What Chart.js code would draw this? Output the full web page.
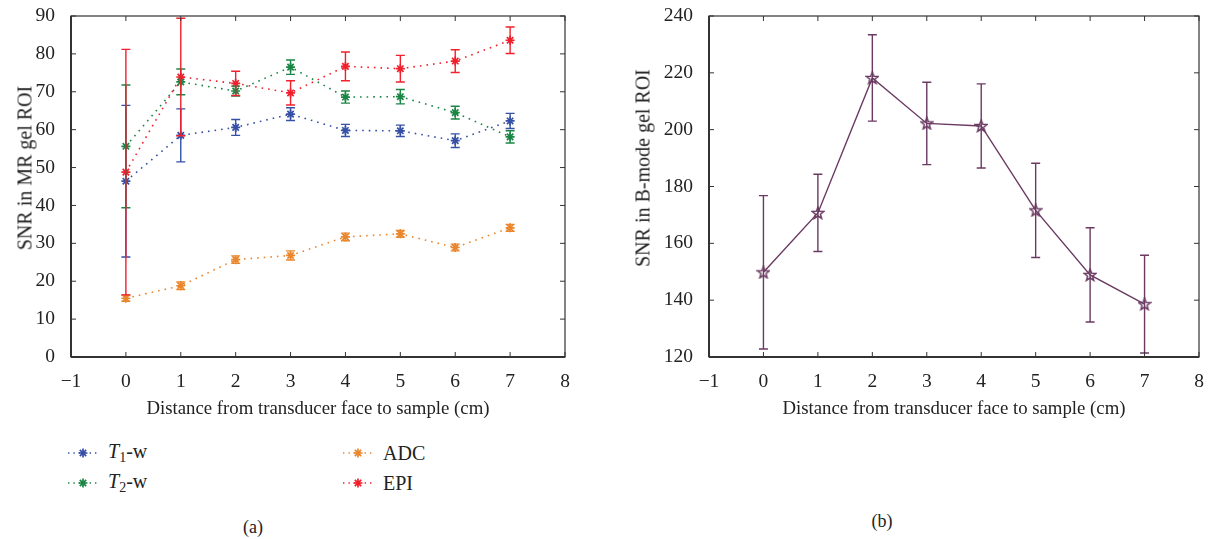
<!DOCTYPE html>
<html>
<head>
<meta charset="utf-8">
<script src="https://cdn.jsdelivr.net/npm/chart.js@4/dist/chart.umd.min.js"></script>
<style>
  body { margin: 0; background: #fff; width: 1214px; height: 539px; position: relative; overflow: hidden; font-family: "Liberation Serif", serif; color: #222; }
  #boxA { position: absolute; left: 0; top: 0; width: 610px; height: 420px; }
  #boxB { position: absolute; left: 610px; top: 0; width: 604px; height: 420px; }
  .leg { position: absolute; font-size: 20px; display: flex; align-items: center; height: 24px; }
  .leg canvas { margin-right: 10px; }
  .cap { position: absolute; font-size: 18px; transform: translateX(-50%); }
  .ytitle { position: absolute; font-size: 20px; white-space: nowrap; transform: translate(-50%, -50%) rotate(-90deg); }
  sub { font-size: 14px; vertical-align: -4px; }
</style>
</head>
<body>
<div id="boxA"><canvas id="chartA"></canvas></div>
<div id="boxB"><canvas id="chartB"></canvas></div>

<div class="ytitle" style="left:25px; top:168px;">SNR in MR gel ROI</div>
<div class="ytitle" style="left:643px; top:168px;">SNR in B-mode gel ROI</div>

<div class="leg" style="left:68px; top:441px;"><canvas class="mk" data-c="#3550a5" width="30" height="12"></canvas><span><i>T</i><sub>1</sub>-w</span></div>
<div class="leg" style="left:68px; top:471px;"><canvas class="mk" data-c="#1b8545" width="30" height="12"></canvas><span><i>T</i><sub>2</sub>-w</span></div>
<div class="leg" style="left:343px; top:441px;"><canvas class="mk" data-c="#ea862c" width="30" height="12"></canvas><span>ADC</span></div>
<div class="leg" style="left:343px; top:471px;"><canvas class="mk" data-c="#f0202c" width="30" height="12"></canvas><span>EPI</span></div>

<div class="cap" style="left:253px; top:517px;">(a)</div>
<div class="cap" style="left:882px; top:511px;">(b)</div>

<script>
// Datos
const distances = [0, 1, 2, 3, 4, 5, 6, 7];
const xTicks = [-1, 0, 1, 2, 3, 4, 5, 6, 7, 8];

const t1Values = [46.4, 58.5, 60.6, 64.1, 59.8, 59.7, 57.1, 62.3];
const t1Errors = [20.0, 7.0, 2.1, 1.7, 1.6, 1.5, 1.8, 2.0];
const t2Values = [55.6, 72.6, 70.2, 76.5, 68.6, 68.7, 64.5, 58.1];
const t2Errors = [16.2, 3.4, 1.3, 1.9, 1.6, 1.9, 1.7, 1.6];
const adcValues = [15.5, 18.8, 25.7, 26.8, 31.7, 32.5, 28.9, 34.1];
const adcErrors = [0.8, 1.0, 1.0, 1.2, 1.0, 0.9, 0.9, 0.9];
const epiValues = [48.8, 73.9, 72.2, 69.7, 76.7, 76.1, 78.1, 83.6];
const epiErrors = [32.4, 15.5, 3.2, 3.2, 3.8, 3.5, 3.0, 3.5];

const bmodeValues = [149.8, 170.7, 218.2, 202.2, 201.3, 171.6, 148.9, 138.6];
const bmodeErrors = [27.0, 13.6, 15.2, 14.5, 14.8, 16.6, 16.6, 17.2];

const mrTicks = [0, 10, 20, 30, 40, 50, 60, 70, 80, 90];
const bmodeTicks = [120, 140, 160, 180, 200, 220, 240];

const FONT = 'Liberation Serif';

function toPoints(values) {
    return distances.map((d, i) => ({ x: d, y: values[i] }));
}

// Estrella de cinco puntas (marcador del gráfico b)
function makePentagram(color) {
    const c = document.createElement('canvas');
    c.width = 14; c.height = 14;
    const ctx = c.getContext('2d');
    ctx.beginPath();
    for (let i = 0; i < 10; i++) {
        const r = i % 2 === 0 ? 6.2 : 2.6;
        const a = -Math.PI / 2 + i * Math.PI / 5;
        const px = 7 + r * Math.cos(a), py = 7.4 + r * Math.sin(a);
        if (i === 0) ctx.moveTo(px, py); else ctx.lineTo(px, py);
    }
    ctx.closePath();
    ctx.strokeStyle = color;
    ctx.lineWidth = 1.5;
    ctx.stroke();
    return c;
}

// Barras de error
const errorBars = {
    id: 'errorBars',
    afterDatasetsDraw(chart) {
        const ctx = chart.ctx;
        const area = chart.chartArea;
        ctx.save();
        ctx.beginPath();
        ctx.rect(area.left, area.top - 1, area.right - area.left, area.bottom - area.top + 2);
        ctx.clip();
        chart.data.datasets.forEach((ds) => {
            if (!ds.errors) return;
            const xs = chart.scales.x, ys = chart.scales.y;
            ctx.strokeStyle = ds.borderColor;
            ctx.lineWidth = 1.4;
            ds.data.forEach((p, i) => {
                const e = ds.errors[i];
                const x = xs.getPixelForValue(p.x);
                const yTop = ys.getPixelForValue(p.y + e);
                const yBot = ys.getPixelForValue(p.y - e);
                ctx.beginPath();
                ctx.moveTo(x, yTop); ctx.lineTo(x, yBot);
                ctx.moveTo(x - 4.5, yTop); ctx.lineTo(x + 4.5, yTop);
                ctx.moveTo(x - 4.5, yBot); ctx.lineTo(x + 4.5, yBot);
                ctx.stroke();
            });
        });
        ctx.restore();
    }
};

// Marco con marcas hacia dentro
const frame = {
    id: 'frame',
    afterDraw(chart) {
        const ctx = chart.ctx;
        const a = chart.chartArea;
        const xs = chart.scales.x, ys = chart.scales.y;
        ctx.save();
        ctx.strokeStyle = '#333';
        ctx.lineWidth = 1.2;
        ctx.strokeRect(a.left, a.top, a.right - a.left, a.bottom - a.top);
        ctx.lineWidth = 1;
        ctx.beginPath();
        xs.ticks.forEach(t => {
            const x = xs.getPixelForValue(t.value);
            ctx.moveTo(x, a.bottom); ctx.lineTo(x, a.bottom - 5);
            ctx.moveTo(x, a.top); ctx.lineTo(x, a.top + 5);
        });
        ys.ticks.forEach(t => {
            const y = ys.getPixelForValue(t.value);
            ctx.moveTo(a.left, y); ctx.lineTo(a.left + 5, y);
            ctx.moveTo(a.right, y); ctx.lineTo(a.right - 5, y);
        });
        ctx.stroke();
        ctx.lineWidth = 2;
        ctx.beginPath();
        ctx.moveTo(a.left, a.bottom); ctx.lineTo(a.right, a.bottom);
        ctx.moveTo(a.left, a.top); ctx.lineTo(a.left, a.bottom);
        ctx.stroke();
        ctx.restore();
    }
};

function xScale() {
    return {
        type: 'linear', min: -1, max: 8,
        afterBuildTicks(s) { s.ticks = xTicks.map(v => ({ value: v })); },
        afterFit(s) { s.height = 63; s.paddingLeft = 0; s.paddingRight = 0; },
        grid: { display: false },
        border: { display: false },
        ticks: {
            color: '#222', padding: 5,
            font: { family: FONT, size: 19.5 },
            callback: v => String(v).replace('-', '\u2212')
        },
        title: {
            display: true, text: 'Distance from transducer face to sample (cm)',
            color: '#222', font: { family: FONT, size: 18.8 }, padding: { top: 4, bottom: 0 }
        }
    };
}

function yScale(tickList, width) {
    return {
        type: 'linear', min: tickList[0], max: tickList[tickList.length - 1],
        afterBuildTicks(s) { s.ticks = tickList.map(v => ({ value: v })); },
        afterFit(s) { s.width = width; s.paddingTop = 0; s.paddingBottom = 0; },
        grid: { display: false },
        border: { display: false },
        ticks: { color: '#222', padding: 8, font: { family: FONT, size: 19.5 } }
    };
}

function mrSeries(values, errors, color) {
    return {
        data: toPoints(values), errors: errors,
        borderColor: color, backgroundColor: color,
        borderWidth: 1.6, borderDash: [1.6, 5],
        pointStyle: 'star', pointRadius: 4.5, pointBorderWidth: 1.7,
        pointBorderColor: color, pointHoverRadius: 4.5,
        tension: 0
    };
}

new Chart(document.getElementById('chartA'), {
    type: 'line',
    data: {
        datasets: [
            mrSeries(t1Values, t1Errors, '#3550a5'),
            mrSeries(t2Values, t2Errors, '#1b8545'),
            mrSeries(adcValues, adcErrors, '#ea862c'),
            mrSeries(epiValues, epiErrors, '#f0202c')
        ]
    },
    options: {
        responsive: true, maintainAspectRatio: false, animation: false,
        layout: { padding: { left: 0, top: 16, right: 45, bottom: 0 } },
        plugins: { legend: { display: false }, tooltip: { enabled: false } },
        scales: { x: xScale(), y: yScale(mrTicks, 71) }
    },
    plugins: [errorBars, frame]
});

const purple = '#6a3a62';
new Chart(document.getElementById('chartB'), {
    type: 'line',
    data: {
        datasets: [{
            data: toPoints(bmodeValues), errors: bmodeErrors,
            borderColor: purple, backgroundColor: purple,
            borderWidth: 1.4,
            pointStyle: makePentagram(purple), pointRadius: 7, pointHoverRadius: 7,
            tension: 0
        }]
    },
    options: {
        responsive: true, maintainAspectRatio: false, animation: false,
        layout: { padding: { left: 0, top: 16, right: 15, bottom: 0 } },
        plugins: { legend: { display: false }, tooltip: { enabled: false } },
        scales: { x: xScale(), y: yScale(bmodeTicks, 99) }
    },
    plugins: [errorBars, frame]
});

// Leyenda (marcadores)
document.querySelectorAll('canvas.mk').forEach(function(c) {
    const ctx = c.getContext('2d');
    const col = c.dataset.c;
    ctx.strokeStyle = col;
    ctx.lineWidth = 1.4;
    ctx.setLineDash([1.4, 4]);
    ctx.beginPath();
    ctx.moveTo(0, 6); ctx.lineTo(30, 6);
    ctx.stroke();
    ctx.setLineDash([]);
    ctx.lineWidth = 1.7;
    ctx.beginPath();
    for (let k = 0; k < 4; k++) {
        const a = k * Math.PI / 4;
        ctx.moveTo(15 - 4.5 * Math.cos(a), 6 - 4.5 * Math.sin(a));
        ctx.lineTo(15 + 4.5 * Math.cos(a), 6 + 4.5 * Math.sin(a));
    }
    ctx.stroke();
});
</script>
</body>
</html>
